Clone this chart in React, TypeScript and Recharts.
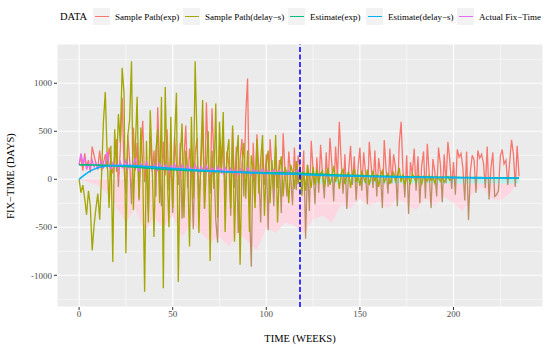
import {
  Area,
  CartesianGrid,
  ComposedChart,
  Line,
  ReferenceArea,
  ReferenceLine,
  XAxis,
  YAxis,
} from "recharts";

// Sample Path(exp), one value per week from week 0
const samplePathExp = [
  150, 240, 90, 270, 130, 200, 70, 340, 250, 160,
  120, 300, 90, 170, 260, 110, 330, 180, 60, 240,
  420, -80, 310, 850, 120, -150, 460, 200, -260, 540,
  90, 380, -220, 260, 610, -30, 170, -340, 450, 80,
  300, -180, 750, 120, -280, 390, 40, 520, -120, 260,
  -350, 440, 150, -60, 380, -410, 210, 560, -90, 320,
  120, -520, 270, 430, -200, 90, 610, -310, 800, 180,
  -150, 740, 220, -420, -660, 350, 60, 480, -240, 290,
  150, -380, 530, -90, 340, -560, 200, 420, -180, 660,
  1050, -300, -910, 380, -120, 470, 90, -450, 310, -60,
  260, -530, 420, 120, -280, 350, -90, 200, -350, 480,
  80, -180, 290, 40, -270, 330, -110, 250, 120, -40,
  300, -620, 150, -330, 400, 90, -260, 230, -140, 360,
  50, -200, 280, -80, 430, 160, -230, 340, 20, 600,
  190, -150, 260, -310, 90, 350, -60, 240, -220, 120,
  330, -120, 280, 70, -260, 390, 150, -90, 300, -180,
  220, 60, -300, 410, 100, -150, 320, -40, 260, 130,
  -280, 370, 600, 90, -190, 250, -360, 180, 50, 320,
  -120, 240, -250, 140, 290, -200, 370, 60, -300, 210,
  80, -180, 330, 150, -240, 260, -40, 390, 200, -100,
  180, -160, 310, 230, 270, 120, -220, 290, -425, 80,
  250, 200, -140, 300, 220, 260, 170, -90, 340, -210,
  120, 280, -180, -160, -120, 240, 310, 160, 200, -60,
  180, 410, 260, -80, 350, 30,
];

// Sample Path(delay-s), one value per week from week 0
const samplePathDelay = [
  0, -140, -60, -200, -370, -120, -280, -740, -480, -300,
  -150, -420, 40, 600, 910, 240, -300, 350, -860, 520,
  80, 680, 380, 1160, 900, -770, 450, 620, 1230, -320,
  300, 860, -200, 540, 120, -1170, 400, -450, 720, 180,
  -600, 300, 520, -250, 860, -1135, 960, 100, -500, 650,
  -300, 420, 900, -1070, 200, 580, -400, 300, 100, -700,
  650, -200, 1230, 400, -560, 200, 825, -300, 120, 500,
  -850, 300, -100, 790, -400, 600, 100, 700, -550, 250,
  420, -300, 560, -650, 200, 460, -890, 150, 380, -200,
  300, -550, 250, 100, -300, 420, -150, 200, 460, -380,
  150, 300, -250, 200, -100, 460, -450, 100, 240, -180,
  130, 60, -250, 150, 80, -100, 190, -50, 120, -170,
  80, -120, 150, 20, -90, 130, -60, 110, -40, 60,
  90, -80, 40, 120, -60, 20, 140, -30, 70, -100,
  60, 100, -50, 30, 80, -90, 40, 110, -30, 50,
  -70, 90, 20, -40, 100, -60, 30, 80, -20, 50,
  -80, 40, 90, -30, 20, 60, -50, 30, 70, -20,
  40, 120, -30, 50, -60, 30, 20, -40, 60, 10,
  -30, 40, 20, -50, 30, 10, -20, 40, -10, 20,
  -40, 30, 10, -20, 20, -30, 10, 30, -10, 0,
];

// Actual Fix-Time, one value per week from week 0
const actualFixTime = [
  150, 270, 170, 230, 100, 160, 120, 200, 130, 170,
  110, 150, 190, 120, 160, 285, 140, 110, 170, 130,
  150, 100, 180, 120, 140, 200, 110, 160, 130, 150,
  220, 120, 90, 160, 140, 110, 180, 120, 140, 100,
  160, 130, 90, 170, 120, 100, 150, 130, 80, 140,
  110, 160, 100, 130, 80, 150, 110, 90, 140, 100,
  120, 80, 150, 100, 70, 130, 110, 80, 140, 90,
  60, 120, 100, 70, 130, 80, 110, 60, 120, 90,
  70, 110, 60, 100, 80, 50, 110, 70, 90, 60,
  120, 80, 50, 100, 70, 90, 60, 80, 110, 50,
  70, 90, 60, 80, 100, 50, 70, 90, 60, 80,
  40, 70, 90, 50, 70, 60, 80, 100, 50,
];

const estimateWeeks = [
  0, 5, 10, 15, 20, 25, 30, 35, 40, 45, 50, 55, 60, 65, 70, 75,
  80, 85, 90, 95, 100, 105, 110, 115, 120, 125, 130, 135, 140, 145, 150, 155,
  160, 165, 170, 175, 180, 185, 190, 195, 200, 205, 210, 215, 220, 225, 230, 235,
];
const estimateExp = [
  150, 150, 148, 145, 140, 133, 126, 119, 112, 105, 99, 94, 90, 86, 83, 80,
  77, 75, 72, 70, 68, 67, 66, 65, 60, 55, 51, 47, 44, 41, 38, 35,
  33, 31, 29, 27, 25, 23, 22, 21, 20, 19, 18, 17, 16, 16, 15, 15,
];
const estimateDelay = [
  0, 75, 120, 138, 143, 143, 140, 134, 127, 120, 113, 106, 100, 94, 88, 83,
  78, 73, 69, 65, 61, 58, 55, 52, 48, 44, 40, 37, 35, 33, 31, 29,
  27, 25, 23, 22, 21, 20, 19, 18, 17, 16, 15, 15, 14, 14, 13, 13,
];

// pink lower band under the sample path (same weeks as the estimates)
const pinkLow = [
  0, -30, -60, -150, -300, -450, -300, -550, -400, -500, -380, -600, -450, -560, -650, -600,
  -700, -560, -650, -740, -500, -560, -450, -480, -560, -420, -380, -450, -260, -300, -200, -280,
  -230, -300, -200, -260, -320, -200, -280, -180, -250, -330, -150, -80, -200, -220, -150, 0,
];

// light cyan band under the late estimates: [start week, end week, low, high]
const bandRange = [125, 235, -45, 18];

const cutoffWeek = 118;

const xTicks = [0, 50, 100, 150, 200];
const xMinor = [25, 75, 125, 175, 225];
const yTicks = [-1000, -500, 0, 500, 1000];
const yMinor = [-1250, -750, -250, 250, 750, 1250];

const legendItems = [
  { name: "Sample Path(exp)", color: "#F8766D", key: 93, text: 115 },
  { name: "Sample Path(delay\u2212s)", color: "#A3A500", key: 183, text: 205 },
  { name: "Estimate(exp)", color: "#00BF7D", key: 288, text: 310 },
  { name: "Estimate(delay\u2212s)", color: "#00B0F6", key: 366, text: 388 },
  { name: "Actual Fix\u2212Time", color: "#E76BF3", key: 457, text: 479 },
];

const FONT = '"Liberation Serif", "Times New Roman", serif';

type Row = {
  week: number;
  exp: number;
  delay?: number;
  actual?: number;
  estExp?: number;
  estDelay?: number;
  pink?: number[];
};

const chartData: Row[] = samplePathExp.map((value, week) => {
  const row: Row = { week, exp: value };
  if (week < samplePathDelay.length) row.delay = samplePathDelay[week];
  if (week < actualFixTime.length) row.actual = actualFixTime[week];
  const e = estimateWeeks.indexOf(week);
  if (e >= 0) {
    row.estExp = estimateExp[e];
    row.estDelay = estimateDelay[e];
    row.pink = [pinkLow[e], 0];
  }
  return row;
});

const expMax = Math.max(...samplePathExp);
const expMin = Math.min(...samplePathExp);
const zeroOffset = expMax / (expMax - expMin);

const App = () => {
  return (
    <div
      style={{
        position: "absolute",
        left: 0,
        top: 0,
        width: 550,
        height: 347,
        background: "#fff",
        fontFamily: FONT,
      }}
    >
      <ComposedChart
        width={550}
        height={347}
        data={chartData}
        margin={{ top: 44, right: 7, bottom: 10, left: 0 }}
      >
        <defs>
          <linearGradient id="expStroke" x1="0" y1="0" x2="0" y2="1">
            <stop offset={zeroOffset} stopColor="#F8766D" />
            <stop offset={zeroOffset} stopColor="#BC8E66" />
          </linearGradient>
        </defs>
        <CartesianGrid fill="#EBEBEB" fillOpacity={1} stroke="#FFFFFF" strokeWidth={1.1} />
        {xMinor.map((x) => (
          <ReferenceLine key={"xm" + x} x={x} stroke="#FFFFFF" strokeWidth={0.5} />
        ))}
        {yMinor.map((y) => (
          <ReferenceLine key={"ym" + y} y={y} stroke="#FFFFFF" strokeWidth={0.5} />
        ))}
        <XAxis
          dataKey="week"
          type="number"
          domain={[-11.8, 247.8]}
          ticks={xTicks}
          interval={0}
          allowDataOverflow
          axisLine={false}
          tickSize={3}
          tickMargin={1}
          tickLine={{ stroke: "#333333" }}
          tick={{ fontSize: 9, fill: "#4D4D4D", fontFamily: FONT }}
          height={30}
        />
        <YAxis
          type="number"
          domain={[-1330, 1409]}
          ticks={yTicks}
          interval={0}
          allowDataOverflow
          axisLine={false}
          tickSize={3}
          tickMargin={2}
          tickLine={{ stroke: "#333333" }}
          tick={{ fontSize: 9, fill: "#4D4D4D", fontFamily: FONT }}
          width={57}
        />
        <Area
          dataKey="pink"
          connectNulls
          fill="#FFD3E0"
          fillOpacity={0.85}
          stroke="none"
          isAnimationActive={false}
        />
        <ReferenceArea
          x1={bandRange[0]}
          x2={bandRange[1]}
          y1={bandRange[2]}
          y2={bandRange[3]}
          fill="#AEF3EC"
          fillOpacity={0.9}
          stroke="none"
        />
        <Line
          dataKey="exp"
          type="linear"
          stroke="url(#expStroke)"
          strokeWidth={1.3}
          dot={false}
          isAnimationActive={false}
        />
        <Line
          dataKey="delay"
          type="linear"
          stroke="#A3A500"
          strokeWidth={1.3}
          dot={false}
          isAnimationActive={false}
        />
        <Line
          dataKey="actual"
          type="linear"
          stroke="#E76BF3"
          strokeWidth={1.3}
          dot={false}
          isAnimationActive={false}
        />
        <Line
          dataKey="estExp"
          type="monotone"
          connectNulls
          stroke="#00BF7D"
          strokeWidth={1.6}
          dot={false}
          isAnimationActive={false}
        />
        <Line
          dataKey="estDelay"
          type="monotone"
          connectNulls
          stroke="#00B0F6"
          strokeWidth={1.6}
          dot={false}
          isAnimationActive={false}
        />
        <ReferenceLine
          x={cutoffWeek}
          stroke="#0000FF"
          strokeWidth={1.5}
          strokeDasharray="5 2.5"
        />
      </ComposedChart>

      <div
        style={{
          position: "absolute",
          left: 60,
          top: 10,
          fontSize: 10.5,
          lineHeight: "14px",
          color: "#000",
        }}
      >
        DATA
      </div>
      {legendItems.map((item) => (
        <div key={item.name}>
          <div
            style={{
              position: "absolute",
              left: item.key,
              top: 8,
              width: 17,
              height: 17,
              background: "#F2F2F2",
            }}
          >
            <div
              style={{
                position: "absolute",
                left: 1.5,
                top: 7.7,
                width: 14,
                height: 1.6,
                background: item.color,
              }}
            />
          </div>
          <div
            style={{
              position: "absolute",
              left: item.text,
              top: 11,
              fontSize: 9,
              lineHeight: "12px",
              whiteSpace: "nowrap",
              color: "#000",
            }}
          >
            {item.name}
          </div>
        </div>
      ))}

      <div
        style={{
          position: "absolute",
          left: 200,
          width: 200,
          top: 332,
          textAlign: "center",
          fontSize: 10.5,
          lineHeight: "14px",
          color: "#000",
        }}
      >
        TIME (WEEKS)
      </div>
      <div
        style={{
          position: "absolute",
          left: 11 - 100,
          top: 176 - 7,
          width: 200,
          textAlign: "center",
          fontSize: 10.5,
          lineHeight: "14px",
          color: "#000",
          transform: "rotate(-90deg)",
          whiteSpace: "nowrap",
        }}
      >
        {"FIX\u2212TIME (DAYS)"}
      </div>
    </div>
  );
};

export default App;
